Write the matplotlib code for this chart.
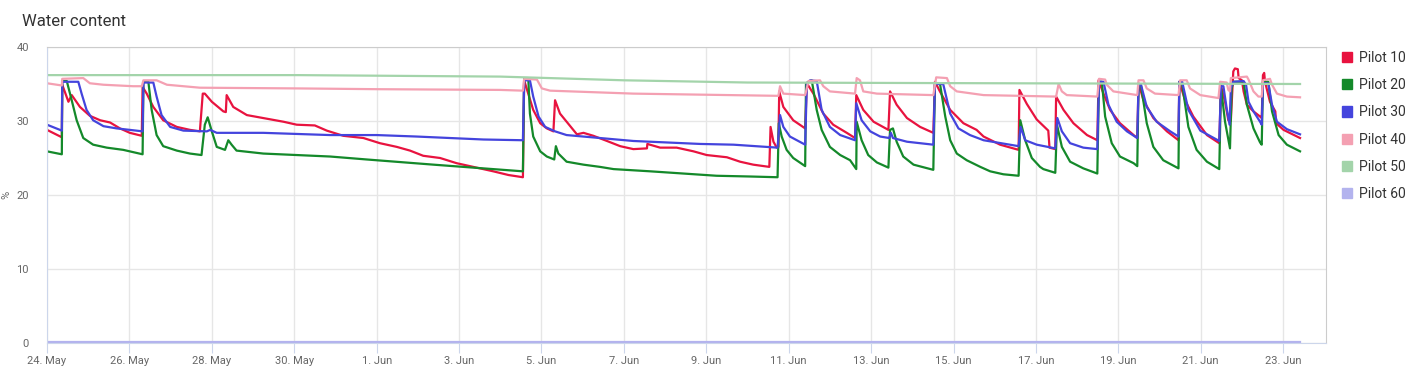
import pandas as pd
import matplotlib
matplotlib.use("Agg")
import matplotlib.pyplot as plt
from matplotlib.patches import Patch

plt.rcParams['font.family'] = ['Roboto', 'DejaVu Sans']

start = pd.Timestamp("2023-05-24")
names = ["Pilot 10", "Pilot 20", "Pilot 30", "Pilot 40", "Pilot 50", "Pilot 60"]
colors = ["#e8133f", "#14892a", "#4444dd", "#f4a0b2", "#a3d4aa", "#b3b3ee"]

# (days since 24 May, water content %)
pilot10 = [(0, 28.8), (0.36, 27.8), (0.37, 34.9), (0.52, 32.6), (0.60, 33.5), (0.80, 31.9),
           (1.04, 30.7), (1.29, 30.1), (1.53, 29.8), (1.77, 29.0), (2.01, 28.4), (2.30, 28.0),
           (2.32, 34.6), (2.42, 33.7), (2.58, 31.9), (2.82, 30.1), (3.15, 29.2), (3.47, 28.8),
           (3.71, 28.6), (3.78, 33.7), (3.83, 33.7), (4.00, 32.6), (4.28, 31.3), (4.34, 31.2),
           (4.36, 33.5), (4.52, 31.9), (4.85, 30.8), (5.25, 30.4), (5.74, 29.9), (6.06, 29.5),
           (6.50, 29.4), (6.79, 28.7), (7.19, 28.0), (7.68, 27.7), (8.08, 27.0), (8.49, 26.5),
           (8.81, 26.0), (9.13, 25.3), (9.54, 25.0), (9.94, 24.3), (10.43, 23.7), (10.83, 23.2),
           (11.20, 22.7), (11.55, 22.4), (11.58, 35.5), (11.68, 33.7), (11.80, 31.5), (11.97, 29.7),
           (12.13, 29.0), (12.29, 28.6), (12.33, 32.8), (12.45, 31.0), (12.61, 29.9), (12.86, 28.2),
           (13.02, 28.4), (13.26, 28.0), (13.59, 27.3), (13.91, 26.6), (14.23, 26.2), (14.56, 26.3),
           (14.57, 26.9), (14.88, 26.4), (15.28, 26.4), (15.69, 25.9), (16.01, 25.4), (16.50, 25.1),
           (16.82, 24.5), (17.14, 24.1), (17.53, 23.8), (17.56, 29.2), (17.63, 27.2), (17.71, 26.4),
           (17.75, 26.5), (17.77, 34.0), (17.87, 31.9), (18.11, 30.1), (18.40, 29.0), (18.44, 35.1),
           (18.60, 33.7), (18.84, 31.0), (19.08, 29.5), (19.41, 28.4), (19.61, 27.7), (19.64, 33.5),
           (19.81, 31.5), (20.06, 29.9), (20.42, 28.8), (20.46, 34.0), (20.62, 32.2), (20.87, 30.4),
           (21.19, 29.2), (21.51, 28.4), (21.55, 35.3), (21.67, 34.0), (21.92, 31.5), (22.24, 29.7),
           (22.56, 28.8), (22.73, 27.9), (23.13, 26.8), (23.58, 26.1), (23.60, 34.2), (23.78, 32.3),
           (24.02, 30.2), (24.30, 28.7), (24.33, 26.4), (24.47, 26.2), (24.49, 33.3), (24.67, 31.5),
           (24.91, 29.7), (25.24, 28.1), (25.49, 27.4), (25.52, 35.5), (25.64, 33.7), (25.80, 31.5),
           (26.04, 29.7), (26.37, 28.1), (26.46, 27.7), (26.49, 35.1), (26.61, 32.8), (26.85, 30.4),
           (27.18, 28.6), (27.46, 27.4), (27.48, 35.3), (27.62, 32.8), (27.82, 30.6), (28.15, 28.1),
           (28.45, 27.0), (28.49, 34.8), (28.59, 32.6), (28.67, 30.1), (28.73, 30.0), (28.77, 34.4),
           (28.79, 36.7), (28.83, 37.1), (28.90, 37.0), (28.92, 35.8), (29.00, 35.5), (29.04, 34.0),
           (29.12, 32.2), (29.28, 31.3), (29.44, 30.6), (29.48, 30.4), (29.51, 36.2), (29.54, 36.5),
           (29.56, 35.3), (29.68, 32.6), (29.81, 31.3), (29.83, 29.7), (30.01, 28.8), (30.41, 27.7)]

pilot20 = [(0, 25.9), (0.36, 25.5), (0.37, 35.4), (0.48, 35.4), (0.60, 32.8), (0.72, 30.1),
           (0.88, 27.7), (1.12, 26.8), (1.45, 26.4), (1.85, 26.1), (2.32, 25.5), (2.34, 35.3),
           (2.46, 35.3), (2.54, 31.5), (2.66, 28.1), (2.82, 26.6), (3.15, 26.0), (3.47, 25.6),
           (3.75, 25.4), (3.83, 29.5), (3.90, 30.5), (4.00, 28.6), (4.12, 26.5), (4.32, 26.1),
           (4.40, 27.4), (4.48, 26.8), (4.60, 26.0), (5.25, 25.6), (6.06, 25.4), (6.87, 25.2),
           (7.76, 24.8), (9.38, 24.1), (10.59, 23.6), (11.55, 23.2), (11.58, 35.8), (11.68, 35.8),
           (11.72, 31.0), (11.80, 27.9), (11.97, 25.9), (12.13, 25.2), (12.31, 24.8), (12.35, 26.6),
           (12.41, 25.6), (12.61, 24.5), (13.02, 24.1), (13.42, 23.8), (13.75, 23.5), (14.64, 23.2),
           (15.44, 22.9), (16.25, 22.6), (17.06, 22.5), (17.73, 22.4), (17.76, 29.7), (17.83, 27.9),
           (17.95, 26.1), (18.11, 25.0), (18.40, 23.9), (18.42, 35.1), (18.56, 35.5), (18.68, 31.5),
           (18.80, 28.8), (19.00, 26.5), (19.25, 25.4), (19.49, 24.7), (19.64, 23.5), (19.65, 29.9),
           (19.77, 27.4), (19.93, 25.4), (20.14, 24.4), (20.42, 23.7), (20.46, 28.8), (20.53, 29.0),
           (20.62, 27.2), (20.78, 25.2), (21.03, 24.1), (21.51, 23.4), (21.55, 35.1), (21.67, 35.1),
           (21.80, 30.6), (21.92, 27.4), (22.08, 25.6), (22.32, 24.7), (22.65, 23.8), (22.89, 23.2),
           (23.21, 22.8), (23.58, 22.6), (23.62, 30.1), (23.74, 27.4), (23.90, 25.0), (24.10, 23.8),
           (24.18, 23.5), (24.47, 23.0), (24.51, 29.5), (24.63, 26.5), (24.83, 24.5), (25.15, 23.6),
           (25.49, 22.9), (25.53, 35.3), (25.60, 35.3), (25.68, 30.6), (25.84, 27.0), (26.04, 25.2),
           (26.37, 24.3), (26.46, 23.9), (26.49, 34.9), (26.55, 34.8), (26.69, 29.7), (26.85, 26.5),
           (27.09, 24.7), (27.46, 23.6), (27.48, 35.3), (27.55, 35.0), (27.70, 29.2), (27.90, 26.1),
           (28.15, 24.5), (28.45, 23.5), (28.49, 34.6), (28.59, 29.9), (28.71, 26.3), (28.75, 34.4),
           (28.79, 35.3), (29.04, 35.3), (29.12, 32.2), (29.28, 29.0), (29.44, 27.1), (29.48, 26.8),
           (29.51, 35.3), (29.64, 35.3), (29.73, 31.3), (29.89, 28.1), (30.09, 26.8), (30.41, 25.9)]

pilot30 = [(0, 29.5), (0.36, 28.7), (0.37, 35.3), (0.76, 35.3), (0.84, 33.7), (0.96, 31.5),
           (1.12, 30.1), (1.37, 29.3), (1.69, 29.0), (2.01, 28.8), (2.32, 28.6), (2.34, 35.2),
           (2.58, 35.2), (2.66, 33.3), (2.78, 30.8), (2.99, 29.2), (3.31, 28.7), (3.88, 28.6),
           (3.96, 28.8), (4.12, 28.4), (5.25, 28.4), (6.87, 28.1), (8.00, 28.1), (8.97, 27.9),
           (9.78, 27.7), (10.59, 27.5), (11.55, 27.4), (11.58, 35.5), (11.72, 35.5), (11.80, 33.3),
           (11.93, 30.6), (12.09, 29.2), (12.33, 28.6), (12.61, 28.1), (13.42, 27.7), (14.23, 27.3),
           (15.04, 27.1), (15.85, 26.9), (16.66, 26.8), (17.73, 26.4), (17.79, 30.8), (17.87, 29.2),
           (18.03, 27.9), (18.40, 26.8), (18.44, 35.1), (18.52, 35.5), (18.68, 35.4), (18.80, 31.5),
           (19.00, 29.2), (19.25, 28.1), (19.61, 27.4), (19.64, 32.4), (19.77, 30.1), (19.98, 28.6),
           (20.22, 27.9), (20.44, 27.7), (20.48, 28.4), (20.53, 27.7), (20.87, 27.2), (21.51, 26.8),
           (21.55, 35.0), (21.75, 35.0), (21.92, 31.0), (22.12, 29.0), (22.40, 28.1), (22.73, 27.4),
           (23.58, 26.6), (23.63, 29.2), (23.74, 27.4), (24.02, 26.8), (24.47, 26.3), (24.52, 30.4),
           (24.63, 28.6), (24.83, 27.0), (25.15, 26.4), (25.49, 26.2), (25.53, 35.3), (25.64, 35.3),
           (25.76, 32.2), (25.96, 29.9), (26.21, 28.6), (26.46, 27.7), (26.49, 34.9), (26.55, 34.9),
           (26.69, 31.9), (26.93, 29.9), (27.26, 28.6), (27.46, 27.9), (27.48, 35.3), (27.55, 35.3),
           (27.70, 31.5), (27.99, 28.7), (28.45, 27.3), (28.49, 34.7), (28.55, 34.7), (28.63, 31.7),
           (28.70, 29.5), (28.73, 34.4), (28.79, 35.3), (29.04, 35.4), (29.10, 34.9), (29.16, 32.6),
           (29.28, 31.3), (29.44, 29.9), (29.48, 29.5), (29.51, 35.1), (29.64, 35.1), (29.73, 32.2),
           (29.85, 29.9), (30.09, 28.9), (30.41, 28.2)]

pilot40 = [(0, 35.1), (0.36, 34.8), (0.37, 35.7), (0.88, 35.8), (1.04, 35.1), (1.37, 34.9),
           (2.09, 34.7), (2.30, 34.7), (2.34, 35.5), (2.66, 35.5), (2.91, 34.9), (3.71, 34.5),
           (6.14, 34.4), (8.00, 34.3), (11.00, 34.2), (11.55, 34.1), (11.58, 35.7), (11.89, 35.6),
           (12.01, 34.4), (12.21, 34.1), (14.23, 33.7), (17.75, 33.4), (17.79, 34.7), (17.87, 33.7),
           (18.40, 33.5), (18.48, 35.4), (18.76, 35.5), (18.84, 34.7), (19.00, 34.0), (19.61, 33.7),
           (19.65, 35.8), (19.73, 35.5), (19.81, 34.0), (20.14, 33.7), (21.51, 33.5), (21.58, 35.9),
           (21.84, 35.8), (21.92, 34.7), (22.08, 34.0), (22.73, 33.5), (24.49, 33.3), (24.55, 35.0),
           (24.63, 34.0), (24.75, 33.5), (25.49, 33.3), (25.53, 35.7), (25.68, 35.6), (25.72, 34.9),
           (25.88, 34.0), (26.46, 33.5), (26.49, 35.5), (26.61, 35.5), (26.69, 34.4), (26.89, 33.7),
           (27.46, 33.5), (27.50, 35.5), (27.66, 35.5), (27.74, 34.4), (27.99, 33.5), (28.43, 33.1),
           (28.47, 35.3), (28.63, 35.2), (28.67, 34.2), (28.71, 34.0), (28.73, 35.8), (29.12, 36.0),
           (29.16, 35.6), (29.28, 34.0), (29.40, 33.3), (29.48, 33.3), (29.51, 35.5), (29.68, 35.7),
           (29.73, 34.9), (29.85, 33.7), (30.09, 33.3), (30.41, 33.2)]

pilot50 = [(0, 36.2), (6.1, 36.2), (11.0, 36.0), (14.0, 35.5), (17.0, 35.2), (23.1, 35.1), (30.41, 35.0)]

pilot60 = [(0, 0.2), (30.41, 0.2)]

series = [pilot10, pilot20, pilot30, pilot40, pilot50, pilot60]
xticks = pd.date_range(start, periods=16, freq="2D")

fig = plt.figure(figsize=(14.26, 3.75), dpi=100)
ax = fig.add_axes([47 / 1426, 32 / 375, 1279 / 1426, 296 / 375])

for pts, c, n in zip(series, colors, names):
    d, v = zip(*pts)
    t = start + pd.to_timedelta(list(d), unit="D")
    ax.plot(t, v, color=c, lw=1.6, label=n, solid_joinstyle="round")

ax.set_xlim(start, start + pd.Timedelta(days=31.04))
ax.set_ylim(0, 40)
ax.set_yticks([0, 10, 20, 30, 40])
ax.set_xticks(xticks)
ax.set_xticklabels([f"{d.day}. {d:%b}" for d in xticks])
ax.grid(True, color="#e6e6e6", lw=1)
ax.set_axisbelow(True)
for s in ["top", "right"]:
    ax.spines[s].set_color("#cccccc")
for s in ["left", "bottom"]:
    ax.spines[s].set_color("#ccd6eb")
ax.tick_params(axis="x", length=7, color="#ccd6eb", labelsize=8, labelcolor="#666666", pad=2)
ax.tick_params(axis="y", length=0, labelsize=8, labelcolor="#666666", pad=13)

fig.text(22 / 1426, 1 - 21 / 375, "Water content", fontsize=12, va="center", color="#333333")
fig.text(6 / 1426, 1 - 195 / 375, "%", rotation=90, va="center", ha="center", fontsize=8, color="#666666")

handles = [Patch(color=c, label=n) for c, n in zip(colors, names)]
fig.legend(handles=handles, loc="upper left", bbox_to_anchor=(1342 / 1426, 1 - 51 / 375),
           frameon=False, fontsize=10, handlelength=0.75, handleheight=0.75,
           handletextpad=0.5, labelspacing=0.95, borderaxespad=0, borderpad=0,
           labelcolor="#333333")

fig.savefig("out.png", dpi=100)
